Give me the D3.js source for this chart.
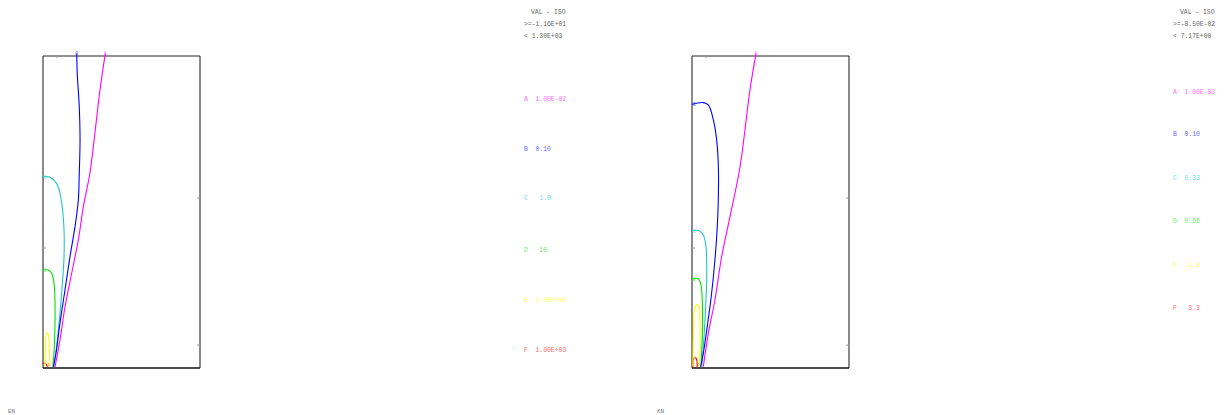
<!DOCTYPE html>
<html><head><meta charset="utf-8">
<script src="https://cdn.jsdelivr.net/npm/d3@7"></script>
<style>body{margin:0;background:#fff}svg{display:block}</style>
</head><body>
<svg id="c" width="1230" height="415"></svg>
<script>
// ---- data (normalized coordinates: x 0..1, y 0..2) ----
const levelLetters = ["A","B","C","D","E","F"];
const levelColors = ["#ff00ff","#0000ff","#1ec8c8","#00e000","#ffff00","#ff0000"];
const legendColors = ["#ff66ff","#6666ff","#66dddd","#66ee66","#ffff55","#ff6666"];

const p1Title = "VAL - ISO";
const p1Range = [">=-1.16E+01", "< 1.30E+03"];
const p1Values = ["1.00E-02","0.10"," 1.0"," 10.","1.00E+02","1.00E+03"];
const p1Footer = "EN";

const p2Title = "VAL - ISO";
const p2Range = [">=-8.50E-02", "< 7.17E+00"];
const p2Values = ["1.00E-02","0.10","0.33","0.66"," 1.0"," 3.3"];
const p2Footer = "KN";

// contour lines panel 1
const p1A = [[0.397,2.017],[0.363,1.782],[0.330,1.50],[0.299,1.25],[0.257,1.034],[0.225,0.821],[0.183,0.609],[0.140,0.391],[0.108,0.179],[0.076,0.006]];
const p1B = [[0.215,2.017],[0.218,1.889],[0.231,1.675],[0.236,1.462],[0.231,1.248],[0.225,1.077],[0.204,0.906],[0.172,0.714],[0.140,0.500],[0.108,0.288],[0.083,0.096],[0.066,0.008]];
const p1C = [[0.0,1.226],[0.045,1.222],[0.087,1.182],[0.108,1.120],[0.125,1.013],[0.134,0.885],[0.134,0.714],[0.125,0.564],[0.108,0.353],[0.091,0.179],[0.070,0.008]];
const p1D = [[0.0,0.628],[0.034,0.628],[0.055,0.607],[0.070,0.543],[0.076,0.436],[0.076,0.265],[0.070,0.094],[0.062,0.008]];
const p1E = [[0.013,0.010],[0.013,0.115],[0.017,0.192],[0.024,0.226],[0.034,0.212],[0.040,0.137],[0.045,0.008]];
const p1F = [[0.0,0.030],[0.010,0.032],[0.022,0.022],[0.028,0.008]];

// contour lines panel 2
const p2A = [[0.408,2.017],[0.369,1.782],[0.306,1.290],[0.242,0.970],[0.189,0.714],[0.146,0.436],[0.104,0.222],[0.072,0.008]];
const p2B = [[0.0,1.690],[0.072,1.701],[0.104,1.686],[0.136,1.590],[0.157,1.462],[0.168,1.290],[0.168,1.098],[0.161,0.906],[0.146,0.692],[0.125,0.479],[0.097,0.265],[0.072,0.094],[0.055,0.008]];
const p2C = [[0.0,0.880],[0.046,0.880],[0.072,0.853],[0.089,0.778],[0.094,0.607],[0.089,0.436],[0.078,0.222],[0.062,0.008]];
const p2D = [[0.0,0.569],[0.040,0.572],[0.057,0.532],[0.066,0.415],[0.066,0.222],[0.057,0.008]];
const p2E = [[0.006,0.010],[0.010,0.244],[0.015,0.372],[0.030,0.408],[0.045,0.393],[0.051,0.308],[0.051,0.137],[0.046,0.008]];
const p2F = [[0.006,0.004],[0.010,0.060],[0.022,0.068],[0.032,0.040],[0.032,0.004]];

// frame tick marks (normalized)
const rightTicks = [1.09, 0.147];
const leftTicks = [0.769];
const topTicks = [0.089];

const panels = [
  {x0:43, x1:200, title:p1Title, range:p1Range, values:p1Values, footer:p1Footer, lines:[p1A,p1B,p1C,p1D,p1E,p1F],
   legX:524, legY:[99,149,198,250,300,350], footX:8},
  {x0:692, x1:849, title:p2Title, range:p2Range, values:p2Values, footer:p2Footer, lines:[p2A,p2B,p2C,p2D,p2E,p2F],
   legX:1173, legY:[92,134,178,221,265,308], footX:657}
];

const svg = d3.select("#c");
const mono = "'Liberation Mono','DejaVu Sans Mono',monospace";

panels.forEach(p => {
  const x = d3.scaleLinear().domain([0,1]).range([p.x0, p.x1]);
  const y = d3.scaleLinear().domain([0,2]).range([368, 56]);
  const g = svg.append("g");

  // frame
  g.append("line").attr("x1",x(0)).attr("x2",x(0)).attr("y1",y(0)).attr("y2",y(2)).attr("stroke","#8a8a8a").attr("stroke-width",2);
  g.append("line").attr("x1",x(1)).attr("x2",x(1)).attr("y1",y(0)).attr("y2",y(2)).attr("stroke","#8a8a8a").attr("stroke-width",2);
  g.append("line").attr("x1",x(0)).attr("x2",x(1)).attr("y1",y(2)).attr("y2",y(2)).attr("stroke","#222").attr("stroke-width",1);
  g.append("line").attr("x1",x(0)).attr("x2",x(1)).attr("y1",y(0)).attr("y2",y(0)).attr("stroke","#111").attr("stroke-width",1.3);
  rightTicks.forEach(t => g.append("line").attr("x1",x(1)-3).attr("x2",x(1)).attr("y1",y(t)).attr("y2",y(t)).attr("stroke","#999"));
  leftTicks.forEach(t => g.append("line").attr("x1",x(0)).attr("x2",x(0)+3).attr("y1",y(t)).attr("y2",y(t)).attr("stroke","#999"));
  topTicks.forEach(t => g.append("line").attr("x1",x(t)).attr("x2",x(t)).attr("y1",y(2)).attr("y2",y(2)+2).attr("stroke","#999"));

  const line = d3.line().x(d=>x(d[0])).y(d=>y(d[1])).curve(d3.curveCatmullRom.alpha(0.5));
  // draw from highest-level to lowest so A/B are on top
  p.lines.map((l,i)=>({l,i})).reverse().forEach(({l,i}) => {
    g.append("path").attr("d", line(l)).attr("fill","none").attr("stroke", levelColors[i]).attr("stroke-width",1.1);
    const s = l[0];
    let lx, ly;
    if (i < 4) { lx = x(s[0]) + (s[0]===0 ? 1 : -1.5); ly = y(s[1]) + 2; }
    else if (i === 4) { lx = x(0) + 1; ly = y(0) - 10; }   // E label up on the left edge
    else { lx = x(0) + 5; ly = y(0) - 1; }                 // F label near the corner
    g.append("text").attr("x", lx).attr("y", ly)
      .attr("font-family",mono).attr("font-size",4.5).attr("fill",legendColors[i]).text(levelLetters[i]);
  });

  // legend header
  const hx = p.legX;
  g.append("text").attr("x",hx+7).attr("y",14).attr("font-family",mono).attr("font-size",6.4).attr("fill","#666").text(p.title);
  g.append("text").attr("x",hx).attr("y",26).attr("font-family",mono).attr("font-size",6.4).attr("fill","#666").text(p.range[0]);
  g.append("text").attr("x",hx).attr("y",38).attr("font-family",mono).attr("font-size",6.4).attr("fill","#666").text(p.range[1]);

  p.values.forEach((v,i) => {
    g.append("text").attr("x",hx).attr("y",p.legY[i]+2).attr("font-family",mono).attr("font-size",6.4)
      .attr("fill",legendColors[i]).attr("xml:space","preserve").style("white-space","pre")
      .text(levelLetters[i] + "  " + v);
  });

  g.append("text").attr("x",p.footX).attr("y",413).attr("font-family",mono).attr("font-size",6).attr("fill","#777").text(p.footer);
});
</script>
</body></html>
